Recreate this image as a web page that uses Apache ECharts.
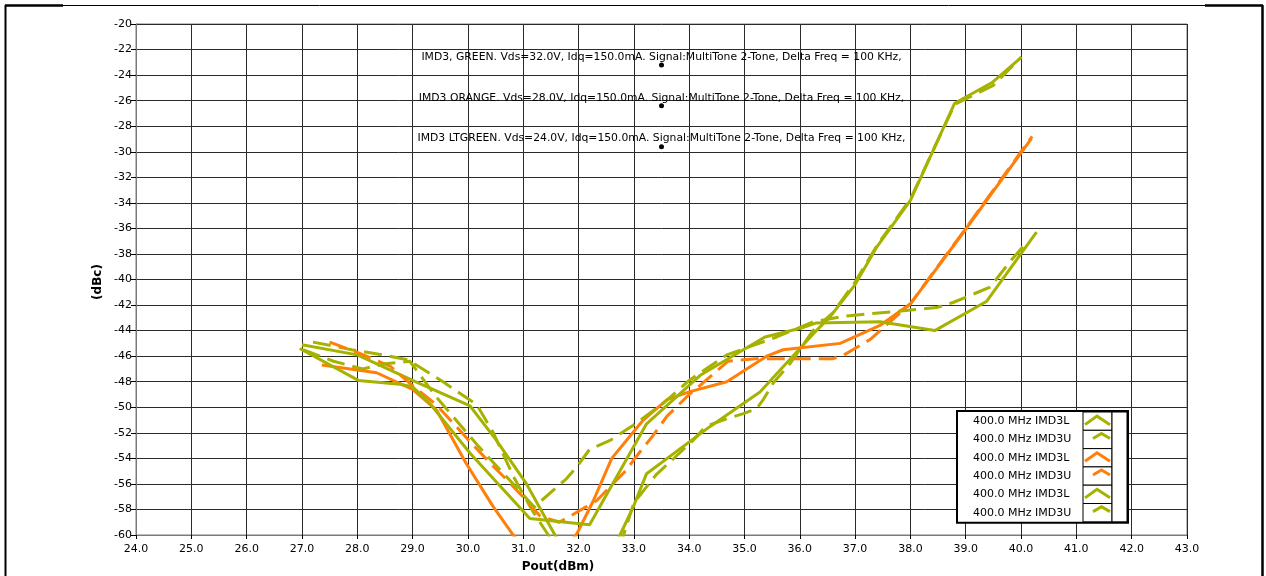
<!DOCTYPE html>
<html><head><meta charset="utf-8">
<script src="https://cdn.jsdelivr.net/npm/echarts@6/dist/echarts.min.js"></script>
<style>html,body{margin:0;padding:0;background:#fff}#c{width:1266px;height:576px}</style>
</head><body><div id="c"></div>
<script>
// ---- data ----
const seriesNames = ['400.0 MHz IMD3L','400.0 MHz IMD3U','400.0 MHz IMD3L','400.0 MHz IMD3U','400.0 MHz IMD3L','400.0 MHz IMD3U'];
const xRange = [24, 43];
const yRange = [-60, -20];
const xStep = 1;
const yStep = 2;
const xAxisTitle = 'Pout(dBm)';
const yAxisTitle = '(dBc)';

const green32L = [[27.0,-45.1],[28.0,-45.9],[29.0,-47.9],[30.04,-49.9],[30.5,-52.5],[31.06,-56.0],[31.42,-58.8],[31.6,-60.2],[32.2,-64],[32.75,-60.0],[32.99,-57.8],[33.23,-55.2],[34.38,-51.5],[35.28,-48.8],[36.3,-44.0],[36.55,-42.9],[37.0,-40.4],[37.4,-37.4],[38.0,-33.8],[38.8,-26.2],[39.47,-24.6],[40.01,-22.6]];
const green32U = [[27.2,-44.9],[27.9,-45.5],[28.47,-45.9],[28.92,-46.3],[29.55,-48.0],[30.16,-49.8],[30.46,-52.0],[30.82,-55.4],[31.18,-58.2],[31.5,-60.3],[32.1,-64],[32.8,-60.2],[33.0,-57.5],[33.4,-55.3],[34.07,-52.6],[34.3,-51.5],[34.68,-50.9],[34.98,-50.5],[35.22,-50.1],[35.34,-49.4],[35.52,-48.1],[35.82,-46.6],[36.24,-44.0],[36.6,-42.6],[37.0,-40.2],[37.4,-37.3],[38.0,-33.7],[38.8,-26.3],[39.5,-24.8],[40.0,-22.6]];
const orange28L = [[27.36,-46.7],[28.35,-47.3],[29.0,-48.6],[29.43,-50.2],[29.97,-54.4],[30.46,-57.8],[30.8,-59.9],[31.4,-63],[31.97,-59.9],[32.27,-57.3],[32.6,-54.0],[33.17,-51.0],[33.6,-49.4],[34.0,-48.8],[34.68,-48.0],[35.4,-46.0],[35.7,-45.5],[36.73,-45.0],[37.45,-43.6],[38.0,-41.9],[38.96,-36.3],[40.19,-28.95]];
const orange28U = [[27.5,-44.9],[28.0,-45.7],[28.6,-46.8],[29.0,-48.3],[29.43,-49.8],[30.04,-52.7],[30.43,-54.5],[30.64,-55.4],[31.06,-57.3],[31.3,-58.5],[31.65,-59.0],[31.9,-58.4],[32.33,-57.3],[32.87,-54.9],[33.0,-54.1],[33.35,-52.2],[33.6,-50.7],[34.0,-49.0],[34.25,-48.1],[34.7,-46.4],[35.2,-46.2],[36.6,-46.2],[36.8,-45.9],[37.27,-44.7],[38.0,-41.9],[39.0,-36.0],[40.2,-28.8]];
const ltgreen24L = [[26.96,-45.4],[28.02,-47.9],[28.77,-48.2],[29.0,-48.4],[29.31,-49.7],[30.04,-53.6],[31.12,-58.7],[32.2,-59.2],[33.23,-51.3],[34.2,-47.5],[35.37,-44.5],[36.03,-43.8],[36.3,-43.4],[37.45,-43.3],[38.44,-44.0],[39.38,-41.7],[40.28,-36.3]];
const ltgreen24U = [[27.02,-45.5],[27.57,-46.4],[28.1,-47.0],[28.5,-46.6],[28.95,-46.4],[29.43,-49.2],[30.2,-53.1],[31.2,-57.8],[31.78,-55.6],[31.97,-54.65],[32.2,-53.3],[32.57,-52.6],[32.99,-51.4],[33.53,-49.7],[34.0,-47.9],[34.68,-45.9],[35.58,-44.5],[36.25,-43.3],[36.85,-42.85],[37.75,-42.5],[38.47,-42.2],[38.77,-41.8],[39.44,-40.6],[39.8,-38.6],[40.1,-37.1]];

const annotationTexts = [
  'IMD3, GREEN. Vds=32.0V, Idq=150.0mA. Signal:MultiTone 2-Tone, Delta Freq = 100 KHz,',
  'IMD3 ORANGE. Vds=28.0V, Idq=150.0mA. Signal:MultiTone 2-Tone, Delta Freq = 100 KHz,',
  'IMD3 LTGREEN. Vds=24.0V, Idq=150.0mA. Signal:MultiTone 2-Tone, Delta Freq = 100 KHz,'
];
const annotationPoints = [[33.5,-23.2],[33.5,-26.4],[33.5,-29.6]];

// ---- styling ----
const GREEN = '#a5b300';
const ORANGE = '#ff7f0a';
const seriesData = [green32L, green32U, orange28L, orange28U, ltgreen24L, ltgreen24U];
const seriesColors = [GREEN, GREEN, ORANGE, ORANGE, GREEN, GREEN];
const seriesDashed = [false, true, false, true, false, true];
const FONT = 'DejaVu Sans';

const chart = echarts.init(document.getElementById('c'), null, {renderer: 'canvas'});

const lineSeries = seriesData.map((d, i) => ({
  type: 'line',
  name: seriesNames[i] + ' #' + i,
  data: d,
  showSymbol: false,
  symbol: 'none',
  clip: true,
  z: 3,
  lineStyle: {color: seriesColors[i], width: 3, type: seriesDashed[i] ? [18, 8] : 'solid', cap: 'butt', join: 'round'},
  emphasis: {disabled: true}
}));

// legend drawn as a boxed table
const LG = {x: 957, y: 411, w: 171, rowH: 18.3, textX: 973, symX: 1083, symW: 29, barW: 15};
const legendEls = [];
legendEls.push({type: 'rect', shape: {x: LG.x, y: LG.y, width: LG.w, height: LG.rowH * 6 + 2}, style: {fill: '#fff', stroke: '#000', lineWidth: 2}, z: 10});
seriesNames.forEach((n, i) => {
  const top = LG.y + 1 + i * LG.rowH;
  const c = top + LG.rowH / 2;
  legendEls.push({type: 'rect', shape: {x: LG.symX, y: top, width: LG.symW, height: LG.rowH}, style: {fill: '#fff', stroke: '#000', lineWidth: 1}, z: 11});
  legendEls.push({type: 'text', x: LG.textX, y: c, style: {text: n, font: '11px "' + FONT + '"', fill: '#000', textVerticalAlign: 'middle', textAlign: 'left'}, z: 11});
  const pts = seriesDashed[i]
    ? [[LG.symX + 10, c - 1], [LG.symX + 18.5, c - 6], [LG.symX + 27, c - 1]]
    : [[LG.symX + 2, c + 3.5], [LG.symX + 14, c - 5], [LG.symX + 27, c + 3.5]];
  legendEls.push({type: 'polyline', shape: {points: pts}, style: {stroke: seriesColors[i], lineWidth: 3, fill: null}, z: 12});
});
legendEls.push({type: 'rect', shape: {x: LG.symX + LG.symW, y: LG.y + 1, width: LG.barW, height: LG.rowH * 6}, style: {fill: '#fff', stroke: '#000', lineWidth: 1}, z: 11});

// outer frame
const frameEls = [
  {type: 'line', shape: {x1: 5, y1: 5.5, x2: 1263, y2: 5.5}, style: {stroke: '#000', lineWidth: 1}},
  {type: 'line', shape: {x1: 5, y1: 5.5, x2: 63, y2: 5.5}, style: {stroke: '#000', lineWidth: 2.5}},
  {type: 'line', shape: {x1: 1205, y1: 5.5, x2: 1263, y2: 5.5}, style: {stroke: '#000', lineWidth: 2.5}},
  {type: 'line', shape: {x1: 5.5, y1: 5, x2: 5.5, y2: 576}, style: {stroke: '#000', lineWidth: 2}},
  {type: 'line', shape: {x1: 1262.5, y1: 5, x2: 1262.5, y2: 576}, style: {stroke: '#000', lineWidth: 2.5}}
];

const titleEls = [
  {type: 'text', x: 558, y: 567, style: {text: xAxisTitle, font: 'bold 12px "' + FONT + '"', fill: '#000', textAlign: 'center', textVerticalAlign: 'middle'}},
  {type: 'text', x: 98, y: 282, rotation: Math.PI / 2, style: {text: yAxisTitle, font: 'bold 12px "' + FONT + '"', fill: '#000', textAlign: 'center', textVerticalAlign: 'middle'}}
];

const option = {
  animation: false,
  backgroundColor: '#fff',
  grid: {left: 136, right: 79, top: 24, bottom: 41, show: true, borderColor: '#7a7a7a', borderWidth: 1, containLabel: false},
  xAxis: {
    type: 'value', min: xRange[0], max: xRange[1], interval: xStep,
    axisLine: {show: true, onZero: false, lineStyle: {color: '#7a7a7a'}},
    axisTick: {show: true, length: 4, lineStyle: {color: '#000'}},
    axisLabel: {color: '#000', fontFamily: FONT, fontSize: 11, margin: 9, formatter: v => v.toFixed(1)},
    splitLine: {show: true, lineStyle: {color: '#2b2b2b', width: 1}}
  },
  yAxis: {
    type: 'value', min: yRange[0], max: yRange[1], interval: yStep,
    axisLine: {show: true, onZero: false, lineStyle: {color: '#7a7a7a'}},
    axisTick: {show: true, length: 5, lineStyle: {color: '#000'}},
    axisLabel: {color: '#000', fontFamily: FONT, fontSize: 11, margin: 4},
    splitLine: {show: true, lineStyle: {color: '#2b2b2b', width: 1}}
  },
  series: lineSeries.concat([{
    type: 'scatter',
    name: 'annotations',
    data: annotationPoints,
    symbol: 'circle', symbolSize: 5,
    itemStyle: {color: '#000', opacity: 1},
    z: 5,
    label: {show: true, position: 'top', distance: 0, color: '#000', opacity: 1, fontFamily: FONT, fontSize: 10.8,
      formatter: p => annotationTexts[p.dataIndex]},
    emphasis: {disabled: true}
  }]),
  graphic: {elements: frameEls.concat(titleEls, legendEls)}
};
chart.setOption(option);
</script>
</body></html>
